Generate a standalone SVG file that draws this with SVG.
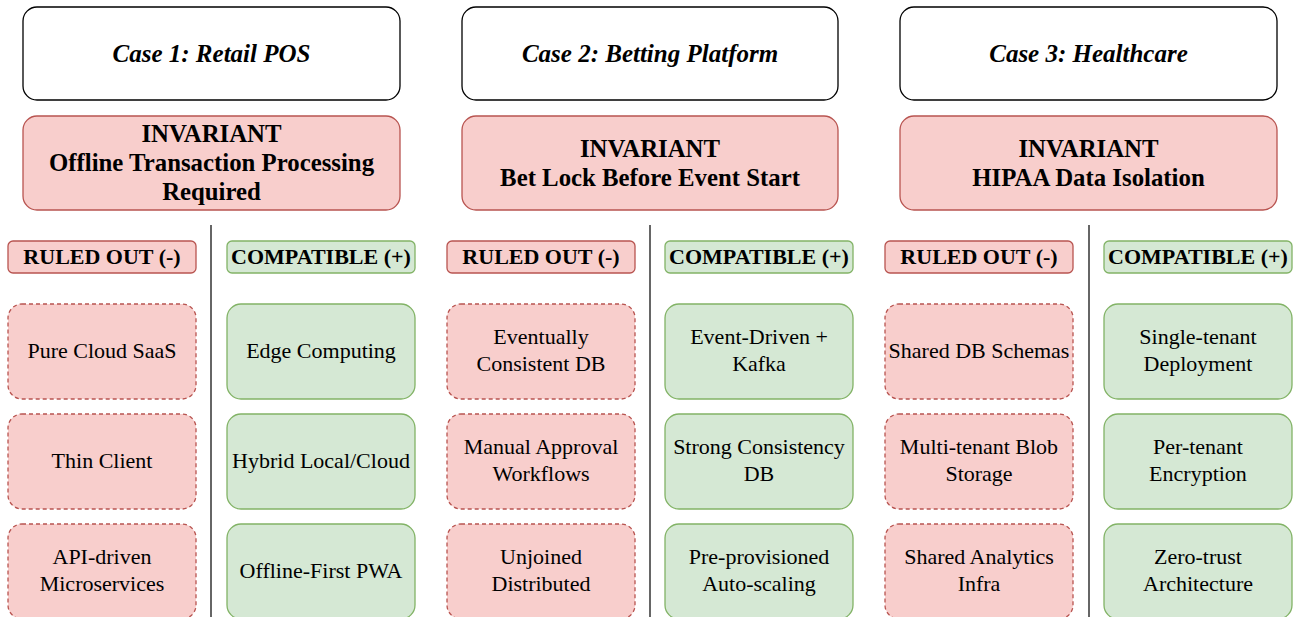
<svg xmlns="http://www.w3.org/2000/svg" width="1296" height="617" viewBox="0 0 1296 617">
<style>
text{font-family:"Liberation Serif","Times New Roman",serif;text-anchor:middle;fill:#000}
.case{fill:#fff;stroke:#000;stroke-width:1.3}
.ct{font-size:25px;font-weight:bold;font-style:italic}
.inv{fill:#f8cecc;stroke:#b85450;stroke-width:1.3}
.it{font-size:24.8px;font-weight:bold}
.hr{fill:#f8cecc;stroke:#b85450;stroke-width:1.3}
.hg{fill:#d5e8d4;stroke:#82b366;stroke-width:1.3}
.ht{font-size:22px;font-weight:bold}
.r{fill:#f8cecc;stroke:#b85450;stroke-width:1.3;stroke-dasharray:4 3}
.g{fill:#d5e8d4;stroke:#82b366;stroke-width:1.3}
.t{font-size:22px}
.div{stroke:#666;stroke-width:2}
</style>
<rect width="1296" height="617" fill="#fff"/>
<g id="connectors">
<line class="div" x1="211" y1="225" x2="211" y2="617"/>
<line class="div" x1="650" y1="225" x2="650" y2="617"/>
<line class="div" x1="1089" y1="225" x2="1089" y2="617"/>
</g>
<g id="case1"><rect class="case" x="23" y="7" width="377" height="93" rx="14"/><text class="ct" x="211.5" y="62">Case 1: Retail POS</text></g>
<g id="case2"><rect class="case" x="462" y="7" width="376" height="93" rx="14"/><text class="ct" x="650" y="62">Case 2: Betting Platform</text></g>
<g id="case3"><rect class="case" x="900" y="7" width="377" height="93" rx="14"/><text class="ct" x="1088.5" y="62">Case 3: Healthcare</text></g>

<g id="inv1"><rect class="inv" x="23" y="116" width="377" height="94" rx="14"/><text class="it" x="211.5" y="142">INVARIANT</text><text class="it" x="211.5" y="171">Offline Transaction Processing</text><text class="it" x="211.5" y="200">Required</text></g>
<g id="inv2"><rect class="inv" x="462" y="116" width="376" height="94" rx="14"/><text class="it" x="650" y="157">INVARIANT</text><text class="it" x="650" y="186">Bet Lock Before Event Start</text></g>
<g id="inv3"><rect class="inv" x="900" y="116" width="377" height="94" rx="14"/><text class="it" x="1088.5" y="157">INVARIANT</text><text class="it" x="1088.5" y="186">HIPAA Data Isolation</text></g>

<g id="ruled1"><rect class="hr" x="8" y="241" width="188" height="32" rx="5"/><text class="ht" x="102" y="264">RULED OUT (-)</text></g>
<g id="compat1"><rect class="hg" x="227" y="241" width="188" height="32" rx="5"/><text class="ht" x="321" y="264">COMPATIBLE (+)</text></g>
<g id="ruled2"><rect class="hr" x="447" y="241" width="188" height="32" rx="5"/><text class="ht" x="541" y="264">RULED OUT (-)</text></g>
<g id="compat2"><rect class="hg" x="665" y="241" width="188" height="32" rx="5"/><text class="ht" x="759" y="264">COMPATIBLE (+)</text></g>
<g id="ruled3"><rect class="hr" x="885" y="241" width="188" height="32" rx="5"/><text class="ht" x="979" y="264">RULED OUT (-)</text></g>
<g id="compat3"><rect class="hg" x="1104" y="241" width="188" height="32" rx="5"/><text class="ht" x="1198" y="264">COMPATIBLE (+)</text></g>

<g id="c1r1"><rect class="r" x="8" y="304" width="188" height="95" rx="14"/><text class="t" x="102" y="358">Pure Cloud SaaS</text></g>
<g id="c1r2"><rect class="r" x="8" y="414" width="188" height="95" rx="14"/><text class="t" x="102" y="468">Thin Client</text></g>
<g id="c1r3"><rect class="r" x="8" y="524" width="188" height="95" rx="14"/><text class="t" x="102" y="564">API-driven</text><text class="t" x="102" y="591">Microservices</text></g>
<g id="c1g1"><rect class="g" x="227" y="304" width="188" height="95" rx="14"/><text class="t" x="321" y="358">Edge Computing</text></g>
<g id="c1g2"><rect class="g" x="227" y="414" width="188" height="95" rx="14"/><text class="t" x="321" y="468">Hybrid Local/Cloud</text></g>
<g id="c1g3"><rect class="g" x="227" y="524" width="188" height="95" rx="14"/><text class="t" x="321" y="578">Offline-First PWA</text></g>

<g id="c2r1"><rect class="r" x="447" y="304" width="188" height="95" rx="14"/><text class="t" x="541" y="344">Eventually</text><text class="t" x="541" y="371">Consistent DB</text></g>
<g id="c2r2"><rect class="r" x="447" y="414" width="188" height="95" rx="14"/><text class="t" x="541" y="454">Manual Approval</text><text class="t" x="541" y="481">Workflows</text></g>
<g id="c2r3"><rect class="r" x="447" y="524" width="188" height="95" rx="14"/><text class="t" x="541" y="564">Unjoined</text><text class="t" x="541" y="591">Distributed</text></g>
<g id="c2g1"><rect class="g" x="665" y="304" width="188" height="95" rx="14"/><text class="t" x="759" y="344">Event-Driven +</text><text class="t" x="759" y="371">Kafka</text></g>
<g id="c2g2"><rect class="g" x="665" y="414" width="188" height="95" rx="14"/><text class="t" x="759" y="454">Strong Consistency</text><text class="t" x="759" y="481">DB</text></g>
<g id="c2g3"><rect class="g" x="665" y="524" width="188" height="95" rx="14"/><text class="t" x="759" y="564">Pre-provisioned</text><text class="t" x="759" y="591">Auto-scaling</text></g>

<g id="c3r1"><rect class="r" x="885" y="304" width="188" height="95" rx="14"/><text class="t" x="979" y="358">Shared DB Schemas</text></g>
<g id="c3r2"><rect class="r" x="885" y="414" width="188" height="95" rx="14"/><text class="t" x="979" y="454">Multi-tenant Blob</text><text class="t" x="979" y="481">Storage</text></g>
<g id="c3r3"><rect class="r" x="885" y="524" width="188" height="95" rx="14"/><text class="t" x="979" y="564">Shared Analytics</text><text class="t" x="979" y="591">Infra</text></g>
<g id="c3g1"><rect class="g" x="1104" y="304" width="188" height="95" rx="14"/><text class="t" x="1198" y="344">Single-tenant</text><text class="t" x="1198" y="371">Deployment</text></g>
<g id="c3g2"><rect class="g" x="1104" y="414" width="188" height="95" rx="14"/><text class="t" x="1198" y="454">Per-tenant</text><text class="t" x="1198" y="481">Encryption</text></g>
<g id="c3g3"><rect class="g" x="1104" y="524" width="188" height="95" rx="14"/><text class="t" x="1198" y="564">Zero-trust</text><text class="t" x="1198" y="591">Architecture</text></g>
</svg>
